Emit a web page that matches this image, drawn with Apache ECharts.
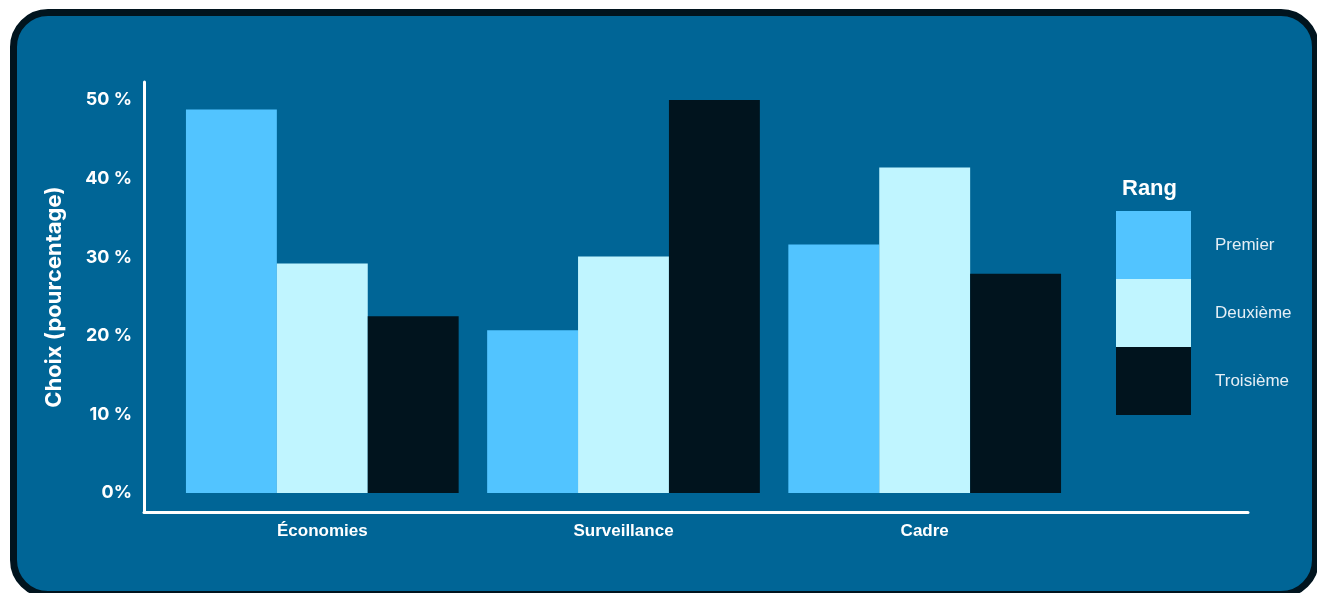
<!DOCTYPE html>
<html>
<head>
<meta charset="utf-8">
<script src="https://cdn.jsdelivr.net/npm/echarts@6/dist/echarts.min.js"></script>
<style>
html,body{margin:0;padding:0;width:1317px;height:593px;overflow:hidden;background:#ffffff;}
#card{position:absolute;left:10px;top:9px;width:1309px;height:589px;box-sizing:border-box;border:7px solid #01141e;border-radius:38px;background:#006596;}
#chart{position:absolute;left:0;top:0;width:1317px;height:593px;}
</style>
</head>
<body>
<div id="card"></div>
<div id="chart"></div>
<script>
const categories = ['Économies', 'Surveillance', 'Cadre'];
const seriesNames = ['Premier', 'Deuxième', 'Troisième'];
const premier = [48.8, 20.7, 31.6];
const deuxieme = [29.2, 30.1, 41.4];
const troisieme = [22.5, 50.0, 27.9];
const seriesColors = ['#52c4ff', '#c0f5ff', '#01141e'];
const yTickLabels = {0: '0%', 10: '10 %', 20: '20 %', 30: '30 %', 40: '40 %', 50: '50 %'};

const Y_MIN = -2.42, Y_MAX = 52.29;
const values = [premier, deuxieme, troisieme];

const chart = echarts.init(document.getElementById('chart'), null, {renderer: 'canvas'});
chart.setOption({
  backgroundColor: 'transparent',
  animation: false,
  title: {
    text: 'Rang',
    left: 1122, top: 178, padding: 0,
    textStyle: {color: '#ffffff', fontFamily: 'Liberation Sans', fontWeight: 'bold', fontSize: 22}
  },
  legend: {
    data: seriesNames,
    orient: 'vertical',
    left: 1116, top: 211,
    padding: 0,
    itemWidth: 75, itemHeight: 68, itemGap: 0,
    icon: 'rect',
    selectedMode: false,
    textStyle: {color: '#e4eef5', fontFamily: 'Liberation Sans', fontSize: 17, padding: [0, 0, 0, 19]}
  },
  grid: [
    {left: 171.7, right: 241.7, top: 82, bottom: 81},
    {left: 144, right: 69, top: 82, bottom: 81}
  ],
  xAxis: [
    {
      type: 'category', gridIndex: 0, data: categories,
      axisLine: {show: false}, axisTick: {show: false},
      axisLabel: {color: '#ffffff', fontFamily: 'Liberation Sans', fontWeight: 'bold', fontSize: 17, margin: 11}
    },
    {
      type: 'value', gridIndex: 1, min: 0, max: 1,
      axisLine: {show: true, onZero: false, lineStyle: {color: '#ffffff', width: 3}},
      axisTick: {show: false}, axisLabel: {show: false}, splitLine: {show: false}
    }
  ],
  yAxis: [
    {type: 'value', gridIndex: 0, min: Y_MIN, max: Y_MAX, show: false},
    {
      type: 'value', gridIndex: 1, min: Y_MIN, max: Y_MAX,
      name: 'Choix (pourcentage)', nameLocation: 'middle', nameGap: 79,
      nameTextStyle: {color: '#ffffff', fontFamily: 'Inter', fontWeight: 'bold', fontSize: 22},
      axisLine: {show: true, onZero: false, lineStyle: {color: '#ffffff', width: 3}},
      axisTick: {show: false}, splitLine: {show: false},
      axisLabel: {
        showMinLabel: false, showMaxLabel: false,
        color: '#ffffff', fontFamily: 'Inter', fontWeight: 'bold', fontSize: 18, margin: 12,
        formatter: function (v) {
          const r = Math.round(v);
          return (Math.abs(v - r) < 1e-6 && yTickLabels[r] !== undefined) ? yTickLabels[r] : '';
        }
      }
    }
  ],
  series: seriesNames.map(function (name, i) {
    return {
      name: name, type: 'bar', xAxisIndex: 0, yAxisIndex: 0,
      data: values[i],
      barGap: '0%', barCategoryGap: '9.46%',
      itemStyle: {color: seriesColors[i]}
    };
  })
});
</script>
</body>
</html>
